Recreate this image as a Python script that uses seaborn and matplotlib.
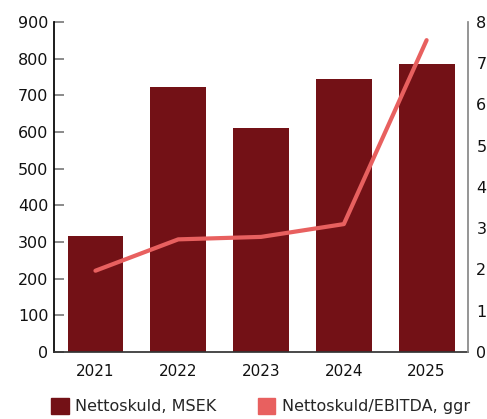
import matplotlib
matplotlib.use("Agg")
import matplotlib.pyplot as plt
import seaborn as sns
import pandas as pd
from matplotlib.patches import Patch

# data
years = ["2021", "2022", "2023", "2024", "2025"]
net_debt = [316, 723, 611, 745, 785]          # Nettoskuld, MSEK
debt_ebitda = [1.97, 2.73, 2.79, 3.10, 7.56]  # Nettoskuld/EBITDA, ggr

bar_color = "#731116"
line_color = "#E8605F"

sns.set_theme(style="white")
plt.rcParams['font.family'] = ['DejaVu Sans']

df = pd.DataFrame({"År": years, "Nettoskuld": net_debt, "Kvot": debt_ebitda})

fig = plt.figure(figsize=(4.87, 4.19), dpi=100)
ax = fig.add_axes([0.111, 0.160, 0.850, 0.7875])

sns.barplot(data=df, x="År", y="Nettoskuld", color=bar_color, width=0.675,
            saturation=1, linewidth=0, ax=ax)
ax.set_ylim(0, 900)
ax.set_xlim(-0.5, 4.5)
ax.set_yticks(range(0, 901, 100))
ax.set_xlabel("")
ax.set_ylabel("")

ax2 = ax.twinx()
sns.lineplot(x=list(range(len(years))), y=debt_ebitda, color=line_color,
             linewidth=3, ax=ax2)
ax2.set_ylim(0, 8)
ax2.set_yticks(range(0, 9))
ax2.set_ylabel("")

for s in ["top", "right"]:
    ax.spines[s].set_visible(False)
ax.spines["left"].set_color("black")
ax.spines["bottom"].set_color("#333333")
ax.tick_params(axis="y", direction="in", length=7, width=1.2, color="#777777",
               labelsize=11.5, labelcolor="#111111", pad=4, left=True)
ax.tick_params(axis="x", length=0, labelsize=11, labelcolor="#111111", pad=9)

for s in ["top", "left", "bottom"]:
    ax2.spines[s].set_visible(False)
ax2.spines["right"].set_color("#888888")
ax2.tick_params(axis="y", length=0, labelsize=11.5, labelcolor="#111111", pad=6)

handles = [Patch(color=bar_color, label="Nettoskuld, MSEK"),
           Patch(color=line_color, label="Nettoskuld/EBITDA, ggr")]
fig.legend(handles=handles, loc="center", bbox_to_anchor=(0.535, 0.03), ncol=2,
           frameon=False, fontsize=11.5, handlelength=1.1, handleheight=1.1,
           columnspacing=2.6, handletextpad=0.4, borderaxespad=0, borderpad=0)

fig.savefig("out.png", dpi=100)
